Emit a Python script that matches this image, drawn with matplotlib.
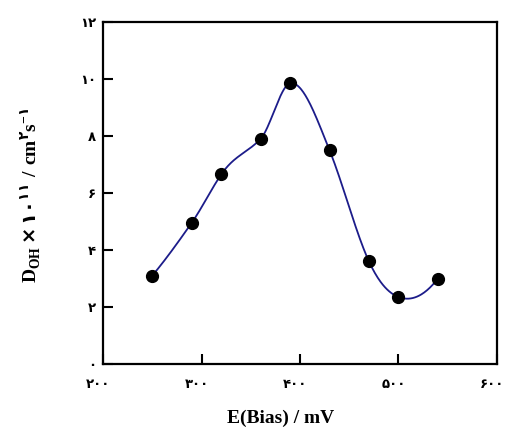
import numpy as np
import matplotlib
matplotlib.use("Agg")
import matplotlib.pyplot as plt
from matplotlib.transforms import ScaledTranslation

# Diffusion coefficient of OH versus applied bias
bias_mv = [250, 290, 320, 360, 390, 430, 470, 500, 540]
d_oh = [3.1, 4.95, 6.65, 7.9, 9.85, 7.5, 3.6, 2.35, 3.0]

x_ticks = [200, 300, 400, 500, 600]
x_tick_labels = ["۲۰۰", "۳۰۰", "۴۰۰", "۵۰۰", "۶۰۰"]
y_ticks = [0, 2, 4, 6, 8, 10, 12]
y_tick_labels = ["۰", "۲", "۴", "۶", "۸", "۱۰", "۱۲"]


def akima(x, y, xs):
    """Akima piecewise cubic through the points (x, y), evaluated at xs."""
    x = np.asarray(x, float)
    y = np.asarray(y, float)
    n = len(x)
    m = np.diff(y) / np.diff(x)
    mm = np.empty(n + 3)
    mm[2:-2] = m
    mm[1] = 2 * m[0] - m[1]
    mm[0] = 2 * mm[1] - m[0]
    mm[-2] = 2 * m[-1] - m[-2]
    mm[-1] = 2 * mm[-2] - m[-1]
    t = np.empty(n)
    for i in range(n):
        w1 = abs(mm[i + 3] - mm[i + 2])
        w2 = abs(mm[i + 1] - mm[i])
        if w1 + w2 == 0:
            t[i] = 0.5 * (mm[i + 1] + mm[i + 2])
        else:
            t[i] = (w1 * mm[i + 1] + w2 * mm[i + 2]) / (w1 + w2)
    idx = np.clip(np.searchsorted(x, xs) - 1, 0, n - 2)
    h = x[idx + 1] - x[idx]
    s = (xs - x[idx]) / h
    h00 = 2 * s**3 - 3 * s**2 + 1
    h10 = s**3 - 2 * s**2 + s
    h01 = -2 * s**3 + 3 * s**2
    h11 = s**3 - s**2
    return h00 * y[idx] + h10 * h * t[idx] + h01 * y[idx + 1] + h11 * h * t[idx + 1]


plt.rcParams["mathtext.fontset"] = "custom"
plt.rcParams["mathtext.bf"] = "Liberation Serif:bold"
plt.rcParams["mathtext.rm"] = "Liberation Serif:bold"
plt.rcParams["mathtext.sf"] = "DejaVu Sans:bold"

fig = plt.figure(figsize=(5.06, 4.28), dpi=100)
ax = fig.add_axes([103 / 506, 1 - 364 / 428, 394 / 506, 342 / 428])

xs = np.linspace(bias_mv[0], bias_mv[-1], 400)
ax.plot(xs, akima(bias_mv, d_oh, xs), color="#1c1c8a", lw=1.3, zorder=2)
ax.plot(bias_mv, d_oh, "o", color="black", ms=8.5, zorder=3)

ax.set_xlim(200, 600)
ax.set_ylim(0, 12)
ax.set_xticks(x_ticks)
ax.set_xticklabels(x_tick_labels)
ax.set_yticks(y_ticks)
ax.set_yticklabels(y_tick_labels)
ax.tick_params(direction="in", length=7, width=1.5, top=False, right=False, pad=5)
ax.tick_params(axis="x", pad=10)
shift = ScaledTranslation(-5 / 100, 0, fig.dpi_scale_trans)
for lab in ax.get_xticklabels():
    lab.set_transform(lab.get_transform() + shift)
for lab in ax.get_xticklabels() + ax.get_yticklabels():
    lab.set_fontfamily(["DejaVu Sans"])
    lab.set_fontweight("bold")
    lab.set_fontsize(9.5)
for sp in ax.spines.values():
    sp.set_linewidth(1.6)

fig.text(281 / 506, 1 - 418 / 428, "E(Bias) / mV", ha="center", va="center",
         fontfamily="Liberation Serif", fontweight="bold", fontsize=14)
fig.text(31 / 506, 1 - 195 / 428,
         r"$\mathbf{D}_{\mathbf{OH}}\,\mathsf{\times}\,\mathsf{۱۰}^{\mathsf{۱۱}}"
         r"\ \mathbf{/\ cm}^{\mathsf{۲}}\mathbf{s}^{\mathbf{-}\mathsf{۱}}$",
         rotation=90, ha="center", va="center", fontsize=14)

fig.savefig("out.png", dpi=100)
